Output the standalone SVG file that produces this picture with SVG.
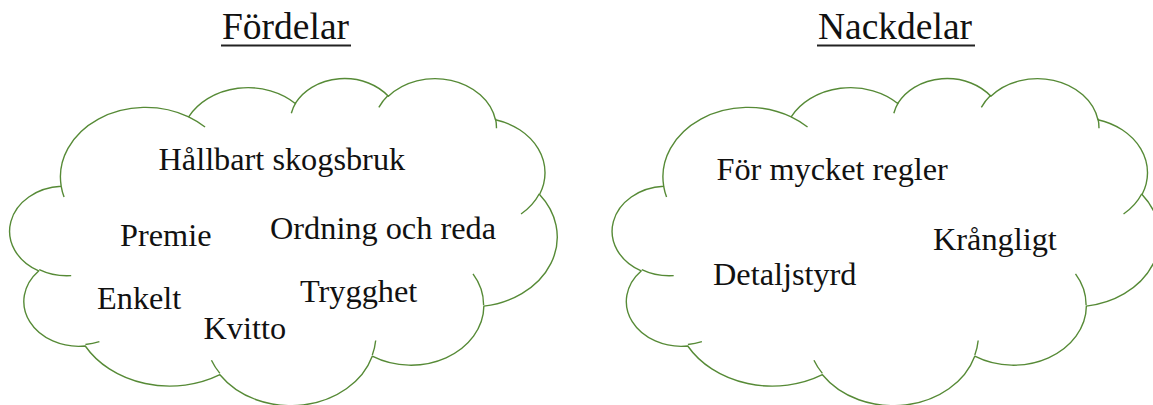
<svg xmlns="http://www.w3.org/2000/svg" xmlns:xlink="http://www.w3.org/1999/xlink" width="1153" height="405" viewBox="0 0 1153 405">
<style>
.bg{fill:#ffffff}
.cloud{fill:none;stroke:#568a36;stroke-width:1.4;vector-effect:non-scaling-stroke;stroke-linejoin:round}
.title{font-family:"Liberation Serif","Times New Roman",serif;font-size:37.5px;fill:#111111}
.item{font-family:"Liberation Serif","Times New Roman",serif;font-size:32.3px;fill:#111111}
.ul{stroke:#222222;stroke-width:1.8}
</style>
<defs>
<g id="cloudShape">
<path class="cloud" d="M3900,14370 A6753,9190 0 0 1 14004,5201 A5333,7267 0 0 1 22455,3432 A4365,5945 0 0 1 29833,2480 A4857,6595 0 0 1 38317,5576 A5333,7273 0 0 1 41818,15460 A6775,9220 0 0 1 37403,30202 A5785,7867 0 0 1 28555,36813 A6752,9215 0 0 1 16481,39266 A7720,10543 0 0 1 5805,35472 A4360,5918 0 0 1 2113,25552 A4345,5945 0 0 1 3900,14370 Z"/>
<path class="cloud" d="M4693,26177 A4345,5945 0 0 1 2160,25380 M6928,34899 A4360,5918 0 0 1 5819,35281 M16478,39090 A6752,9215 0 0 1 15809,37348 M28827,34751 A6752,9215 0 0 1 28560,36660 M36541,25951 A5785,7867 0 0 1 37380,30089 M41798,15354 A5333,7273 0 0 1 40349,18032 M38324,5426 A4857,6595 0 0 1 38400,6690 M29078,3952 A4857,6595 0 0 1 29820,2339 M22141,4720 A4365,5945 0 0 1 22500,3330 M14000,5192 A6753,9190 0 0 1 15302,6543 M4127,15789 A6753,9190 0 0 1 3900,14370"/>
</g>
</defs>
<rect class="bg" x="0" y="0" width="1153" height="405"/>
<g id="title-fordelar">
<text class="title" x="222" y="38.5">Fördelar</text>
<line class="ul" x1="221" y1="45.5" x2="351" y2="45.5"/>
</g>
<g id="title-nackdelar">
<text class="title" x="818" y="38.5">Nackdelar</text>
<line class="ul" x1="817" y1="45.5" x2="975" y2="45.5"/>
</g>
<g id="cloud-fordelar">
<use xlink:href="#cloudShape" href="#cloudShape" transform="translate(12,77.5) scale(0.012616,0.0075694)"/>
<text class="item" x="158.5" y="170">Hållbart skogsbruk</text>
<text class="item" x="120" y="246">Premie</text>
<text class="item" x="270" y="239">Ordning och reda</text>
<text class="item" x="97" y="309">Enkelt</text>
<text class="item" x="203.5" y="338.5">Kvitto</text>
<text class="item" x="300" y="302">Trygghet</text>
</g>
<g id="cloud-nackdelar">
<use xlink:href="#cloudShape" href="#cloudShape" transform="translate(614.5,77.5) scale(0.012616,0.0075694)"/>
<text class="item" x="716.5" y="179.5">För mycket regler</text>
<text class="item" x="933" y="250">Krångligt</text>
<text class="item" x="713" y="285">Detaljstyrd</text>
</g>
<g id="connectors"></g>
</svg>
